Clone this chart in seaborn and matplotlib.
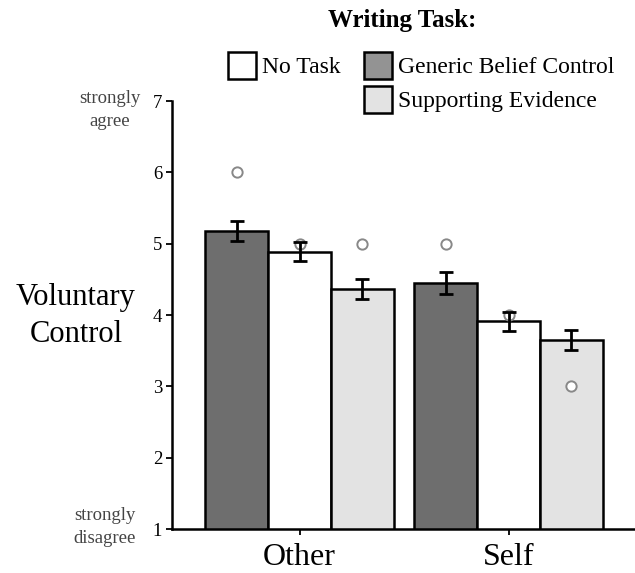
import matplotlib
matplotlib.use("Agg")
import matplotlib.pyplot as plt
import matplotlib.patches as mpatches
import pandas as pd
import seaborn as sns

# data
targets = ["Other", "Self"]
tasks = ["Generic Belief Control", "No Task", "Supporting Evidence"]
means_other = [5.18, 4.89, 4.36]
means_self = [4.45, 3.91, 3.65]
se_other = [0.14, 0.13, 0.14]
se_self = [0.15, 0.13, 0.14]
outlier_other = [6, 5, 5]
outlier_self = [5, 4, 3]

bar_colors = ["#6e6e6e", "#ffffff", "#e3e3e3"]
legend_colors = {"No Task": "#ffffff", "Generic Belief Control": "#939393",
                 "Supporting Evidence": "#e3e3e3"}

df = pd.DataFrame({
    "target": [t for t in targets for _ in tasks],
    "task": tasks * 2,
    "mean": means_other + means_self,
    "se": se_other + se_self,
    "outlier": outlier_other + outlier_self,
})

sns.set_theme(style="ticks")
plt.rcParams["font.family"] = ["Liberation Serif", "DejaVu Serif"]
plt.rcParams["text.color"] = "black"

fig = plt.figure(figsize=(6.35, 5.73), dpi=100)
ax = fig.add_axes([172 / 635, 1 - 529 / 573, (634 - 172) / 635, (529 - 101) / 573])

sns.barplot(data=df, x="target", y="mean", hue="task", hue_order=tasks,
            order=targets, palette=bar_colors, width=0.9, errorbar=None,
            edgecolor="black", linewidth=1.8, saturation=1, legend=False, ax=ax)

# error bars and outlier circles placed on the bar centres
for container, task in zip(ax.containers, tasks):
    sub = df[df["task"] == task].set_index("target").loc[targets]
    xs = [b.get_x() + b.get_width() / 2 for b in container]
    ax.scatter(xs, sub["outlier"], s=55, facecolor="white", edgecolor="#888888",
               linewidth=1.4, zorder=4)
    ax.errorbar(xs, sub["mean"], yerr=sub["se"], fmt="none", ecolor="black",
                elinewidth=2, capsize=5, capthick=2, zorder=5)

ax.set_ylim(1, 7)
ax.set_xlim(-0.61, 1.6)
ax.set_yticks(range(1, 8))
ax.set_xlabel("")
ax.set_ylabel("")
ax.tick_params(axis="y", labelsize=13.5, length=4, width=1.3, pad=3,
               colors="black")
ax.tick_params(axis="x", labelsize=23, length=4, width=1.3, pad=6,
               colors="black")
for side in ["left", "bottom"]:
    ax.spines[side].set_linewidth(1.8)
    ax.spines[side].set_color("black")
sns.despine(ax=ax)

fig.text(76 / 635, 1 - 316 / 573, "Voluntary\nControl", ha="center", va="center",
         fontsize=22, linespacing=1.4)
fig.text(110 / 635, 1 - 110 / 573, "strongly\nagree", ha="center", va="center",
         fontsize=13.5, color="#444444", linespacing=1.4)
fig.text(105 / 635, 1 - 527 / 573, "strongly\ndisagree", ha="center", va="center",
         fontsize=13.5, color="#444444", linespacing=1.4)

fig.text(402 / 635, 1 - 20 / 573, "Writing Task:", ha="center", va="center",
         fontsize=18, fontweight="bold")

order = ["No Task", None, "Generic Belief Control", "Supporting Evidence"]
handles, labels = [], []
for name in order:
    if name is None:
        handles.append(mpatches.Patch(facecolor="none", edgecolor="none"))
        labels.append("")
    else:
        handles.append(mpatches.Patch(facecolor=legend_colors[name],
                                      edgecolor="black", linewidth=1.8))
        labels.append(name)
leg = fig.legend(handles, labels, ncol=2, loc="upper left",
                 bbox_to_anchor=(211 / 635, 1 - 35 / 573), frameon=False,
                 fontsize=17, handlelength=1.2, handleheight=1.4,
                 handletextpad=0.25, columnspacing=1.0, labelspacing=0.3,
                 borderpad=0.2)

fig.savefig("out.png", dpi=100)
